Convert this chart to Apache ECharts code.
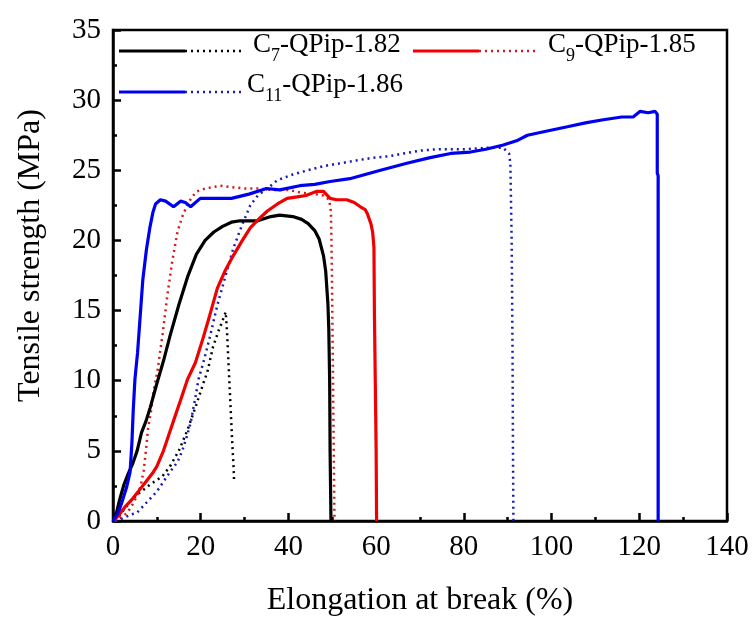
<!DOCTYPE html>
<html>
<head>
<meta charset="utf-8">
<script src="https://cdn.jsdelivr.net/npm/echarts@6/dist/echarts.min.js"></script>
<style>
html,body{margin:0;padding:0;background:#fff;}
#chart{width:754px;height:622px;}
</style>
</head>
<body>
<div id="chart"></div>
<script>
// ---- data ----
const xTicks = [0, 20, 40, 60, 80, 100, 120, 140];
const yTicks = [0, 5, 10, 15, 20, 25, 30, 35];
const seriesNames = ['C7-QPip-1.82', 'C9-QPip-1.85', 'C11-QPip-1.86'];

const c7Solid = [[0.2,0],[0.8,0.6],[1.5,1.5],[2.5,2.6],[3.5,3.4],[4.5,4.1],[5.5,5.0],[6.5,6.3],[7.5,7.1],[8.5,8.1],[10,9.8],[11.5,11.4],[13,13.2],[15,15.4],[17,17.4],[19,19.0],[21,20.0],[23,20.6],[25,21.0],[27,21.3],[29,21.4],[33,21.4],[36,21.7],[38,21.8],[41,21.7],[43,21.5],[44.5,21.2],[46,20.7],[47,20.1],[48,18.9],[48.5,17.8],[49,15.5],[49.2,13.7],[49.4,10],[49.5,5],[49.7,0]];
const c7Dotted = [[0.5,0],[2,0.6],[4,1.4],[6,2.0],[8.5,2.6],[11.3,3.2],[13,3.9],[15,5.0],[17,6.5],[19,8.3],[20.8,10.0],[21.5,10.6],[22.8,12.4],[24,13.5],[25,14.3],[25.7,14.9],[26.0,13.5],[26.3,11.5],[26.6,9.5],[26.9,7.5],[27.2,5.5],[27.5,3.8],[27.6,2.9]];
const c9Solid = [[0.2,0],[1,0.3],[2,0.7],[3,1.1],[4.5,1.6],[6,2.2],[7.5,2.8],[9,3.4],[10,3.9],[11.5,5.0],[13,6.4],[14.3,7.6],[15.5,8.7],[17,10.1],[18.8,11.3],[20.5,13.0],[22,14.6],[23.8,16.6],[25.5,17.8],[27.4,18.9],[29.5,20.0],[31.3,20.9],[33.5,21.6],[35.2,22.1],[37.5,22.6],[39.7,23.0],[42,23.1],[44,23.2],[46.5,23.5],[48,23.5],[49.5,23.0],[51,22.9],[53.3,22.9],[55,22.7],[56.4,22.4],[57.5,22.2],[58,21.9],[58.8,21.2],[59.2,20.6],[59.5,19.5],[59.6,15],[59.8,10],[60,5],[60.1,0]];
const c9Dotted = [[0.3,0],[1.5,0.2],[2.5,0.4],[3.3,0.6],[4.5,1.2],[5.5,1.8],[6.3,2.5],[7,3.6],[7.5,5],[8,6.6],[8.7,7.9],[9.2,9.2],[10.1,10.6],[11.3,13.3],[12.4,16.1],[13.5,18.5],[14.7,20.6],[15.8,21.7],[16.9,22.5],[18,23.1],[19.2,23.5],[21,23.7],[24.5,23.9],[27,23.8],[30,23.7],[33,23.7],[36,23.6],[40,23.6],[43,23.4],[46,23.3],[48,23.2],[49.3,22.9],[49.7,22],[49.9,18],[50.1,12],[50.3,6],[50.5,0]];
const c11Solid = [[0,0],[0.3,0.1],[1.2,0.6],[2.1,1.4],[3.1,2.4],[3.9,3.5],[4.3,5.5],[4.6,7.8],[5.0,10.1],[5.6,12.0],[6.2,14.6],[6.8,17.2],[7.6,19.3],[8.4,20.9],[9.1,22.0],[9.7,22.6],[10.8,22.9],[12,22.8],[13.8,22.4],[15.4,22.8],[16.5,22.7],[17.7,22.4],[19.9,23.0],[23,23.0],[27,23.0],[31,23.3],[35,23.7],[38,23.6],[42.6,23.9],[46,24.0],[49.5,24.2],[54,24.4],[61,25.0],[67,25.5],[72.3,25.9],[77,26.2],[81.5,26.3],[85,26.5],[89,26.8],[92,27.1],[94.5,27.5],[99,27.8],[103.6,28.1],[108,28.4],[111.8,28.6],[116,28.8],[118.6,28.8],[120.2,29.2],[122,29.1],[123.6,29.2],[124.1,29.0],[124.1,24.8],[124.3,24.6],[124.3,0]];
const c11Dotted = [[0.5,0],[1.6,0.1],[3,0.3],[4.5,0.5],[5.5,0.6],[7,1.1],[8.5,1.6],[10,2.1],[11.5,2.8],[13,3.5],[14.7,4.2],[15.8,5.0],[16.9,6.1],[17.7,7.0],[18.3,8.0],[18.9,9.0],[19.5,10.1],[20.6,11.3],[22,13.0],[23.8,15.4],[25.5,17.3],[27.4,19.4],[29.3,21.0],[31.3,22.5],[33,23.2],[35.2,23.7],[37.5,24.3],[41,24.7],[44.4,25.0],[48,25.3],[51.9,25.5],[55.5,25.7],[59.4,25.9],[63,26.0],[66.2,26.2],[70,26.4],[74,26.5],[80,26.5],[85,26.6],[89,26.6],[90.3,26.2],[90.6,25.5],[90.9,20],[91.1,12],[91.2,5],[91.3,0]];

// ---- styling ----
const FONT = '"Liberation Serif", "Times New Roman", serif';
const BLACK = '#000000', RED = '#f00000', RED_DOT = '#d41818', BLUE = '#0000f0', BLUE_DOT = '#1818bc';
const DOT = [2, 4];

function lineSeries(name, data, color, dotted) {
  return {
    name: name, type: 'line', data: data, showSymbol: false, symbol: 'none',
    animation: false, silent: true,
    lineStyle: { color: color, width: dotted ? 2.5 : 3.2, type: dotted ? DOT : 'solid' }
  };
}

const chart = echarts.init(document.getElementById('chart'), null, { renderer: 'canvas' });

function legendItem(x, y, color, dotColor) {
  return [
    { type: 'line', shape: { x1: x, y1: y, x2: x + 66, y2: y }, style: { stroke: color, lineWidth: 3 } },
    { type: 'line', shape: { x1: x + 66, y1: y, x2: x + 124, y2: y }, style: { stroke: dotColor, lineWidth: 2.5, lineDash: DOT } }
  ];
}

function legendText(x, top, main, sub, rest) {
  return {
    type: 'text', left: x, top: top,
    style: {
      text: '{m|' + main + '}{s|' + sub + '}{m|' + rest + '}',
      rich: {
        m: { fontSize: 27, fontFamily: FONT, fill: '#000', lineHeight: 42 },
        s: { fontSize: 18, fontFamily: FONT, fill: '#000', lineHeight: 18, verticalAlign: 'bottom' }
      }
    }
  };
}

const option = {
  backgroundColor: '#ffffff',
  animation: false,
  grid: { left: 113, right: 27, top: 30, bottom: 100, show: true, borderColor: '#000', borderWidth: 2.5, containLabel: false },
  xAxis: {
    type: 'value', min: xTicks[0], max: xTicks[xTicks.length - 1], interval: 20,
    name: 'Elongation at break (%)', nameLocation: 'middle', nameGap: 64,
    nameTextStyle: { fontSize: 32, fontFamily: FONT, color: '#000' },
    axisLine: { show: true, lineStyle: { color: '#000', width: 2.5 } },
    axisTick: { show: true, inside: true, length: 8, lineStyle: { color: '#000', width: 2.5 } },
    minorTick: { show: true, splitNumber: 2, length: 4, lineStyle: { color: '#000', width: 2.5 } },
    splitLine: { show: false },
    axisLabel: { fontSize: 29, fontFamily: FONT, color: '#000', margin: 12 }
  },
  yAxis: {
    type: 'value', min: yTicks[0], max: yTicks[yTicks.length - 1], interval: 5,
    name: 'Tensile strength (MPa)', nameLocation: 'middle', nameGap: 66,
    nameTextStyle: { fontSize: 32, fontFamily: FONT, color: '#000', padding: [0, 0, 0, 40] },
    axisLine: { show: true, lineStyle: { color: '#000', width: 2.5 } },
    axisTick: { show: true, inside: true, length: 8, lineStyle: { color: '#000', width: 2.5 } },
    minorTick: { show: true, splitNumber: 2, length: 4, lineStyle: { color: '#000', width: 2.5 } },
    splitLine: { show: false },
    axisLabel: { fontSize: 29, fontFamily: FONT, color: '#000', margin: 12 }
  },
  series: [
    lineSeries(seriesNames[0] + ' dotted', c7Dotted, BLACK, true),
    lineSeries(seriesNames[1] + ' dotted', c9Dotted, RED_DOT, true),
    lineSeries(seriesNames[2] + ' dotted', c11Dotted, BLUE_DOT, true),
    lineSeries(seriesNames[0], c7Solid, BLACK, false),
    lineSeries(seriesNames[1], c9Solid, RED, false),
    lineSeries(seriesNames[2], c11Solid, BLUE, false)
  ],
  graphic: [].concat(
    legendItem(119, 51, BLACK, BLACK),
    legendItem(413, 51, RED, RED_DOT),
    legendItem(119, 92, BLUE, BLUE_DOT),
    [
      legendText(253, 31, 'C', '7', '-QPip-1.82'),
      legendText(548, 31, 'C', '9', '-QPip-1.85'),
      legendText(247, 71, 'C', '11', '-QPip-1.86')
    ]
  )
};

chart.setOption(option);
</script>
</body>
</html>
